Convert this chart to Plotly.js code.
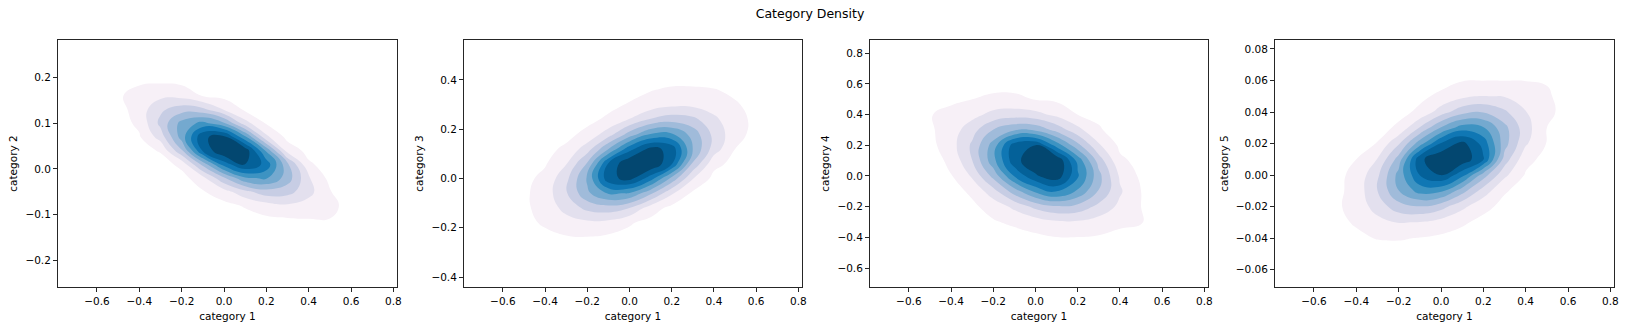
<!DOCTYPE html>
<html>
<head>
<meta charset="utf-8">
<script src="https://cdn.plot.ly/plotly-3.0.1.min.js"></script>
<style>
  html, body { margin: 0; padding: 0; background: #fff; }
  #chart { width: 1627px; height: 330px; }
</style>
</head>
<body>
<div id="chart"></div>
<script>
// grid nodes on "category 1" (shared by all four panels)
const xGrid = [-0.6, -0.5, -0.4, -0.3, -0.2, -0.1, 0, 0.1, 0.2, 0.3, 0.4, 0.5, 0.6, 0.7];

// relative density (peak = 1)
const yGrid2 = [-0.14, -0.11, -0.08, -0.05, -0.02, 0.01, 0.04, 0.07, 0.10, 0.13, 0.16, 0.19, 0.22];
const density2 = [
  [0, 0, 0, 0, 0, 0, 0, 0, 0, 0, 0, 0, 0, 0],
  [0, 0, 0, 0, 0, 0, 0, 0.01, 0.03, 0.04, 0.048, 0.048, 0.02, 0],
  [0, 0, 0, 0, 0, 0.01, 0.02, 0.06, 0.11, 0.14, 0.11, 0.08, 0.01, 0],
  [0, 0, 0, 0, 0.01, 0.04, 0.11, 0.23, 0.32, 0.30, 0.19, 0.055, 0.01, 0],
  [0, 0, 0, 0, 0.01, 0.12, 0.35, 0.56, 0.59, 0.42, 0.17, 0.02, 0, 0],
  [0, 0, 0, 0, 0.08, 0.40, 0.73, 0.90, 0.75, 0.39, 0.065, 0.01, 0, 0],
  [0, 0, 0.01, 0.06, 0.35, 0.80, 1.00, 0.97, 0.56, 0.11, 0.02, 0, 0, 0],
  [0, 0.01, 0.04, 0.20, 0.52, 0.88, 0.93, 0.60, 0.18, 0.02, 0, 0, 0, 0],
  [0, 0.01, 0.07, 0.29, 0.51, 0.61, 0.49, 0.20, 0.04, 0, 0, 0, 0, 0],
  [0, 0.01, 0.10, 0.24, 0.32, 0.29, 0.15, 0.03, 0, 0, 0, 0, 0, 0],
  [0.01, 0.04, 0.08, 0.13, 0.12, 0.045, 0.02, 0, 0, 0, 0, 0, 0, 0],
  [0.01, 0.02, 0.04, 0.04, 0.03, 0.01, 0, 0, 0, 0, 0, 0, 0, 0],
  [0, 0, 0, 0, 0, 0, 0, 0, 0, 0, 0, 0, 0, 0]
];

const yGrid3 = [-0.30, -0.24, -0.18, -0.12, -0.06, 0, 0.06, 0.12, 0.18, 0.24, 0.30, 0.36, 0.42];
const density3 = [
  [0, 0, 0, 0, 0, 0, 0, 0, 0, 0, 0, 0, 0, 0],
  [0, 0.01, 0.03, 0.04, 0.045, 0.03, 0.02, 0.01, 0, 0, 0, 0, 0, 0],
  [0.01, 0.03, 0.06, 0.11, 0.13, 0.12, 0.06, 0.02, 0.01, 0, 0, 0, 0, 0],
  [0.01, 0.03, 0.09, 0.19, 0.29, 0.32, 0.26, 0.10, 0.02, 0.01, 0, 0, 0, 0],
  [0.01, 0.03, 0.10, 0.25, 0.45, 0.59, 0.57, 0.39, 0.17, 0.03, 0.01, 0, 0, 0],
  [0, 0.02, 0.08, 0.23, 0.49, 0.86, 0.93, 0.73, 0.44, 0.16, 0.02, 0, 0, 0],
  [0, 0.01, 0.04, 0.15, 0.38, 0.80, 0.99, 1.00, 0.80, 0.35, 0.08, 0.02, 0.01, 0],
  [0, 0, 0.02, 0.07, 0.21, 0.47, 0.75, 0.93, 0.86, 0.47, 0.21, 0.05, 0.01, 0],
  [0, 0, 0, 0.02, 0.08, 0.21, 0.41, 0.58, 0.59, 0.43, 0.23, 0.09, 0.015, 0],
  [0, 0, 0, 0.01, 0.02, 0.07, 0.16, 0.27, 0.32, 0.29, 0.18, 0.08, 0.03, 0.01],
  [0, 0, 0, 0, 0, 0.02, 0.06, 0.09, 0.13, 0.13, 0.10, 0.06, 0.02, 0.01],
  [0, 0, 0, 0, 0, 0, 0.01, 0.045, 0.065, 0.065, 0.055, 0.03, 0.01, 0],
  [0, 0, 0, 0, 0, 0, 0, 0, 0, 0, 0, 0, 0, 0]
];

const yGrid4 = [-0.5, -0.4, -0.3, -0.2, -0.1, 0, 0.1, 0.2, 0.3, 0.4, 0.5, 0.6, 0.7];
const density4 = [
  [0, 0, 0, 0, 0, 0, 0, 0, 0, 0, 0, 0, 0, 0],
  [0, 0, 0, 0, 0.01, 0.01, 0.03, 0.048, 0.048, 0.04, 0.025, 0.01, 0, 0],
  [0, 0, 0, 0.01, 0.04, 0.07, 0.10, 0.14, 0.14, 0.11, 0.07, 0.055, 0.02, 0],
  [0, 0, 0.01, 0.03, 0.09, 0.18, 0.29, 0.35, 0.33, 0.23, 0.13, 0.05, 0.02, 0],
  [0, 0, 0.01, 0.07, 0.22, 0.42, 0.60, 0.70, 0.56, 0.36, 0.17, 0.05, 0.02, 0],
  [0, 0.02, 0.045, 0.17, 0.40, 0.69, 0.88, 0.96, 0.70, 0.40, 0.14, 0.03, 0.01, 0],
  [0.01, 0.01, 0.07, 0.26, 0.54, 0.86, 0.97, 1.00, 0.65, 0.32, 0.07, 0.02, 0.01, 0],
  [0.01, 0.02, 0.11, 0.28, 0.52, 0.85, 0.90, 0.64, 0.40, 0.17, 0.03, 0.01, 0, 0],
  [0.01, 0.035, 0.10, 0.22, 0.37, 0.46, 0.45, 0.33, 0.19, 0.06, 0.01, 0, 0, 0],
  [0.01, 0.045, 0.08, 0.12, 0.19, 0.21, 0.19, 0.13, 0.05, 0.03, 0.01, 0, 0, 0],
  [0, 0.01, 0.03, 0.05, 0.07, 0.07, 0.045, 0.03, 0.02, 0, 0, 0, 0, 0],
  [0, 0, 0.01, 0.01, 0.02, 0.02, 0.01, 0, 0, 0, 0, 0, 0, 0],
  [0, 0, 0, 0, 0, 0, 0, 0, 0, 0, 0, 0, 0, 0]
];

const yGrid5 = [-0.05, -0.04, -0.03, -0.02, -0.01, 0, 0.01, 0.02, 0.03, 0.04, 0.05, 0.06, 0.07];
const density5 = [
  [0, 0, 0, 0, 0, 0, 0, 0, 0, 0, 0, 0, 0, 0],
  [0, 0.015, 0.03, 0.055, 0.059, 0.045, 0.03, 0.01, 0, 0, 0, 0, 0, 0],
  [0.01, 0.025, 0.06, 0.12, 0.16, 0.15, 0.11, 0.065, 0.02, 0.01, 0, 0, 0, 0],
  [0.01, 0.03, 0.09, 0.20, 0.32, 0.36, 0.30, 0.18, 0.08, 0.02, 0.01, 0, 0, 0],
  [0.01, 0.02, 0.09, 0.26, 0.47, 0.62, 0.60, 0.41, 0.21, 0.06, 0.01, 0, 0, 0],
  [0, 0.02, 0.08, 0.24, 0.51, 0.79, 0.90, 0.72, 0.42, 0.18, 0.04, 0.01, 0, 0],
  [0, 0.01, 0.05, 0.16, 0.41, 0.87, 0.98, 0.97, 0.80, 0.32, 0.08, 0.02, 0.01, 0],
  [0, 0, 0.01, 0.055, 0.25, 0.53, 0.80, 0.93, 0.75, 0.41, 0.17, 0.045, 0.01, 0],
  [0, 0, 0, 0.01, 0.07, 0.27, 0.48, 0.63, 0.59, 0.40, 0.20, 0.05, 0.02, 0],
  [0, 0, 0, 0, 0.02, 0.07, 0.21, 0.33, 0.36, 0.28, 0.16, 0.07, 0.02, 0],
  [0, 0, 0, 0, 0.01, 0.03, 0.07, 0.13, 0.16, 0.15, 0.10, 0.06, 0.02, 0],
  [0, 0, 0, 0, 0, 0, 0.017, 0.045, 0.049, 0.048, 0.048, 0.045, 0.011, 0],
  [0, 0, 0, 0, 0, 0, 0, 0, 0, 0, 0, 0, 0, 0]
];

const yTitles = ['category 2', 'category 3', 'category 4', 'category 5'];
const xTickVals = [-0.6, -0.4, -0.2, 0, 0.2, 0.4, 0.6, 0.8];
const yTickVals2 = [-0.2, -0.1, 0, 0.1, 0.2];
const yTickVals3 = [-0.4, -0.2, 0, 0.2, 0.4];
const yTickVals4 = [-0.6, -0.4, -0.2, 0, 0.2, 0.4, 0.6, 0.8];
const yTickVals5 = [-0.06, -0.04, -0.02, 0, 0.02, 0.04, 0.06, 0.08];

// PuBu bands, lightest to darkest
const bandColors = ['#f7f0f7', '#e3e0ee', '#c7cde4', '#a0bbda', '#74a9cf',
                    '#3d93c2', '#1077b4', '#046199', '#034770'];

const W = 1627, H = 330;
const font = 'DejaVu Sans, Liberation Sans, sans-serif';

const levelSize = 0.95 / 9;
const colorscale = [[0, '#ffffff']].concat(
  bandColors.map((c, i) => [(i + 1) / 9, c])
);

const panels = [
  {y: yGrid2, z: density2, left: 58, right: 397, yRange: [-0.258, 0.282], ticks: yTickVals2, fmt: '.1f'},
  {y: yGrid3, z: density3, left: 464, right: 802, yRange: [-0.4405, 0.5622], ticks: yTickVals3, fmt: '.1f'},
  {y: yGrid4, z: density4, left: 870, right: 1208, yRange: [-0.7237, 0.8866], ticks: yTickVals4, fmt: '.1f'},
  {y: yGrid5, z: density5, left: 1275, right: 1614, yRange: [-0.07096, 0.0857], ticks: yTickVals5, fmt: '.2f'}
];

const axisBase = {
  showline: true,
  mirror: true,
  linecolor: '#262626',
  linewidth: 1,
  ticks: 'outside',
  ticklen: 4,
  tickwidth: 1,
  tickcolor: '#262626',
  showgrid: false,
  zeroline: false,
  fixedrange: true,
  tickfont: {family: font, size: 10.5, color: '#000'}
};

const data = [];
const layout = {
  width: W,
  height: H,
  margin: {l: 0, r: 0, t: 0, b: 0},
  paper_bgcolor: '#fff',
  plot_bgcolor: '#fff',
  showlegend: false,
  title: {
    text: 'Category Density',
    x: 810 / W,
    xanchor: 'center',
    y: 1 - 14 / H,
    yanchor: 'middle',
    font: {family: font, size: 12.5, color: '#000'}
  }
};

panels.forEach((p, i) => {
  const n = i === 0 ? '' : String(i + 1);
  data.push({
    type: 'contour',
    x: xGrid,
    y: p.y,
    z: p.z,
    xaxis: 'x' + n,
    yaxis: 'y' + n,
    autocontour: false,
    contours: {
      start: 0.05,
      end: 0.05 + 8 * levelSize,
      size: levelSize,
      coloring: 'fill',
      showlines: false
    },
    line: {width: 0, smoothing: 1.3},
    colorscale: colorscale,
    zmin: 0,
    zmax: 1,
    showscale: false,
    hoverinfo: 'skip'
  });

  layout['xaxis' + n] = Object.assign({}, axisBase, {
    domain: [p.left / W, p.right / W],
    anchor: 'y' + n,
    range: [-0.784, 0.817],
    tickvals: xTickVals,
    tickformat: '.1f',
    title: {text: 'category 1', standoff: 7, font: {family: font, size: 10.5, color: '#000'}}
  });
  layout['yaxis' + n] = Object.assign({}, axisBase, {
    domain: [1 - 287 / H, 1 - 40 / H],
    anchor: 'x' + n,
    range: p.yRange,
    tickvals: p.ticks,
    tickformat: p.fmt,
    title: {text: yTitles[i], standoff: 5, font: {family: font, size: 10.5, color: '#000'}}
  });
});

Plotly.newPlot('chart', data, layout, {displayModeBar: false, staticPlot: true});
</script>
</body>
</html>
